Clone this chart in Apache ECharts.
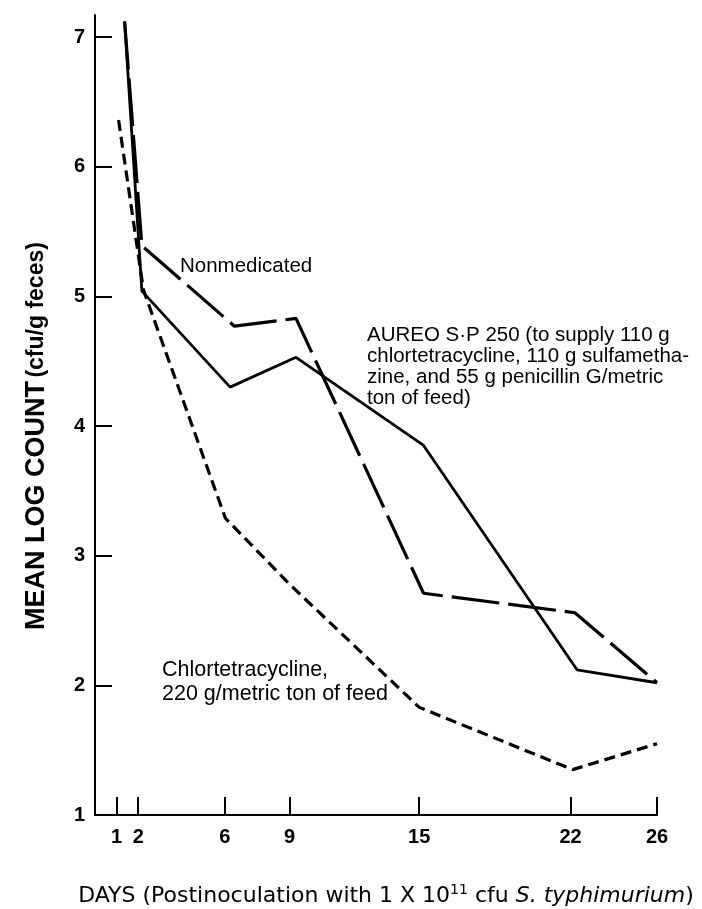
<!DOCTYPE html>
<html>
<head>
<meta charset="utf-8">
<script src="https://cdn.jsdelivr.net/npm/echarts@6/dist/echarts.min.js"></script>
<style>
  html, body { margin: 0; padding: 0; background: #fff; }
  #chart { width: 702px; height: 909px; }
</style>
</head>
<body>
<div id="chart"></div>
<script>
const dayTicks = [1, 2, 6, 9, 15, 22, 26];
const countTicks = [1, 2, 3, 4, 5, 6, 7];

// [day, mean log count]
const nonmedicated = [[1.37, 7.12], [2.17, 5.39], [6.45, 4.77], [9.3, 4.83], [15.2, 2.71], [22.2, 2.56], [26, 2.02]];
const aureo = [[1.37, 7.12], [2.17, 5.04], [6.25, 4.3], [9.3, 4.53], [15.2, 3.85], [22.3, 2.12], [26, 2.02]];
const chlortetracycline = [[1.09, 6.36], [2.24, 5.05], [6.03, 3.29], [9, 2.78], [15, 1.83], [22.1, 1.35], [26, 1.55]];

const nonmedicatedLabel = 'Nonmedicated';
const aureoLabel = [
  'AUREO S\u00b7P 250 (to supply 110 g',
  'chlortetracycline, 110 g sulfametha-',
  'zine, and 55 g penicillin G/metric',
  'ton of feed)',
];
const chlortetracyclineLabel = ['Chlortetracycline,', '220 g/metric ton of feed'];

const sans = '"Liberation Sans", Arial, sans-serif';
const labelFont = '20.5px ' + sans;

const chart = echarts.init(document.getElementById('chart'));

function lineSeries(name, data, type, width) {
  return {
    name,
    type: 'line',
    data,
    symbol: 'none',
    silent: true,
    lineStyle: {
      color: '#000',
      width,
      type,
      cap: 'butt',
    },
  };
}

chart.setOption({
  animation: false,
  backgroundColor: '#fff',
  grid: {
    left: 95,
    right: 45,
    top: 15,
    bottom: 94,
    outerBoundsMode: 'none',
  },
  xAxis: {
    type: 'value',
    min: 0,
    max: 26,
    name: '{t|DAYS (Postinoculation with 1 X 10}{s|11}{t| cfu }{i|S. typhimurium}{t|)}',
    nameLocation: 'middle',
    nameGap: 68,
    nameTextStyle: {
      padding: [0, 0, 0, 20],
      rich: {
        t: { fontFamily: '"DejaVu Sans", sans-serif', fontSize: 22, color: '#000' },
        s: { fontFamily: '"DejaVu Sans", sans-serif', fontSize: 14, color: '#000', verticalAlign: 'top', padding: [0, 0, 13, 0] },
        i: { fontFamily: '"DejaVu Sans", sans-serif', fontSize: 22, fontStyle: 'italic', color: '#000' },
      },
    },
    axisLine: { lineStyle: { color: '#000', width: 2 } },
    axisTick: {
      inside: true,
      length: 18,
      customValues: dayTicks,
      lineStyle: { color: '#000', width: 2 },
    },
    axisLabel: {
      customValues: dayTicks,
      margin: 12,
      color: '#000',
      fontSize: 20,
      fontWeight: 'bold',
      fontFamily: sans,
    },
    splitLine: { show: false },
  },
  yAxis: {
    type: 'value',
    min: 1,
    max: 7.17,
    axisLine: { lineStyle: { color: '#000', width: 2 } },
    axisTick: {
      inside: true,
      length: 17,
      customValues: countTicks,
      lineStyle: { color: '#000', width: 2 },
    },
    axisLabel: {
      customValues: countTicks,
      margin: 10,
      color: '#000',
      fontSize: 20,
      fontWeight: 'bold',
      fontFamily: sans,
    },
    splitLine: { show: false },
  },
  series: [
    lineSeries('Nonmedicated', nonmedicated, [48, 9], 3.2),
    lineSeries('AUREO S-P 250', aureo, 'solid', 2.8),
    lineSeries('Chlortetracycline', chlortetracycline, [11, 6], 3.2),
  ],
  graphic: [
    {
      type: 'text',
      x: 37,
      y: 436,
      rotation: Math.PI / 2,
      style: {
        text: '{a|MEAN LOG COUNT} {b|(cfu/g feces)}',
        align: 'center',
        verticalAlign: 'middle',
        rich: {
          a: { fontFamily: sans, fontSize: 27, fontWeight: 'bold', fill: '#000' },
          b: { fontFamily: sans, fontSize: 23, fontWeight: 'bold', fill: '#000' },
        },
      },
    },
    {
      type: 'text',
      x: 180,
      y: 266,
      style: { text: nonmedicatedLabel, font: labelFont, fill: '#000', verticalAlign: 'middle' },
    },
    {
      type: 'text',
      x: 367,
      y: 325,
      style: { text: aureoLabel.join('\n'), font: labelFont, lineHeight: 21, fill: '#000', verticalAlign: 'top' },
    },
    {
      type: 'text',
      x: 162,
      y: 658,
      style: { text: chlortetracyclineLabel.join('\n'), font: '21.5px ' + sans, lineHeight: 24, fill: '#000', verticalAlign: 'top' },
    },
  ],
});
</script>
</body>
</html>
